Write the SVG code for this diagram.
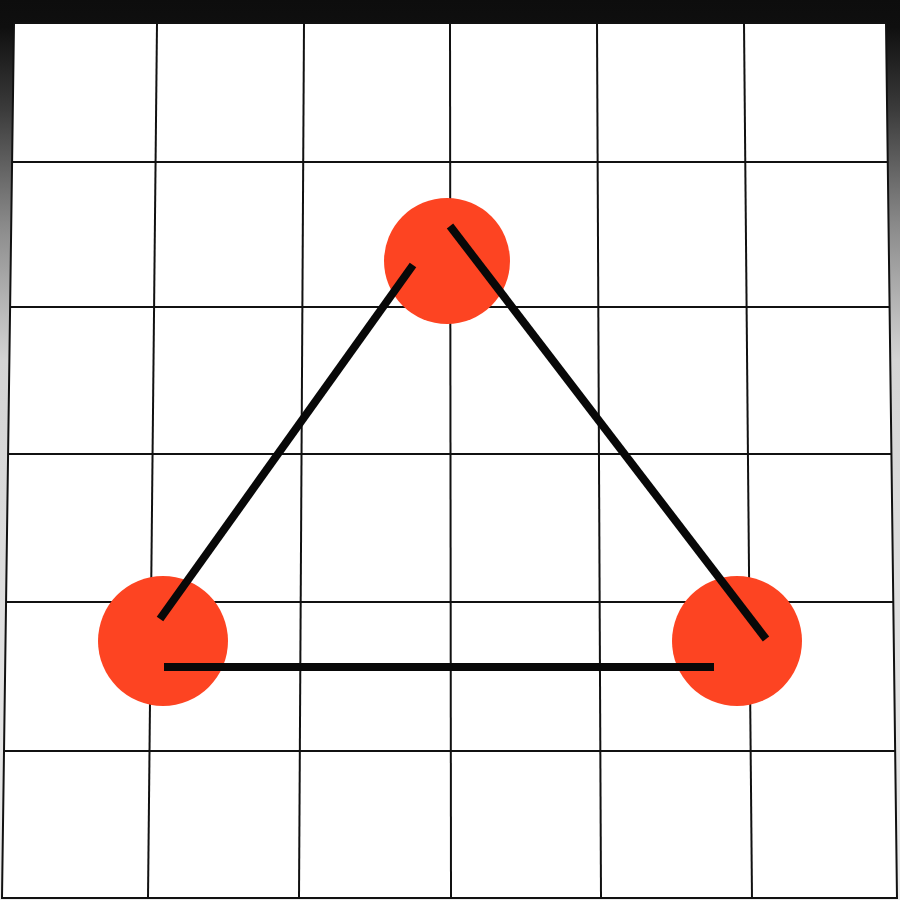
<svg xmlns="http://www.w3.org/2000/svg" width="900" height="900" viewBox="0 0 900 900">
<defs>
<linearGradient id="bg" x1="0" y1="0" x2="0" y2="900" gradientUnits="userSpaceOnUse">
<stop offset="0" stop-color="#0d0d0d"/>
<stop offset="0.03" stop-color="#0f0f0f"/>
<stop offset="0.12" stop-color="#3a3a3a"/>
<stop offset="0.25" stop-color="#8a8a8a"/>
<stop offset="0.4" stop-color="#d4d4d4"/>
<stop offset="1" stop-color="#ececec"/>
</linearGradient>
<style>
.grid{stroke:#111;stroke-width:2;fill:none}
.node{fill:#fd4422}
.edge{stroke:#080808;stroke-width:8;stroke-linecap:butt;fill:none}
</style>
</defs>
<rect x="0" y="0" width="900" height="900" fill="url(#bg)"/>
<polygon points="14,23 886,23 897,898 2,898" fill="#ffffff"/>
<g id="grid" class="grid">
<polygon points="14,23 886,23 897,898 2,898"/>
<line x1="157" y1="23" x2="148" y2="898"/>
<line x1="304" y1="23" x2="299" y2="898"/>
<line x1="450" y1="23" x2="451" y2="898"/>
<line x1="597" y1="23" x2="601" y2="898"/>
<line x1="744" y1="23" x2="752" y2="898"/>
<line x1="12.5" y1="162" x2="887" y2="162"/>
<line x1="10.5" y1="307" x2="889" y2="307"/>
<line x1="8.5" y1="454" x2="891" y2="454"/>
<line x1="6.5" y1="602" x2="893" y2="602"/>
<line x1="4" y1="751" x2="895" y2="751"/>
</g>
<g id="node-top"><circle class="node" cx="447" cy="261" r="63"/></g>
<g id="node-left"><circle class="node" cx="163" cy="641" r="65"/></g>
<g id="node-right"><circle class="node" cx="737" cy="641" r="65"/></g>
<g id="connectors">
<line class="edge" x1="160" y1="619" x2="413" y2="265"/>
<line class="edge" x1="450" y1="226" x2="766" y2="639"/>
<line class="edge" x1="164" y1="667" x2="714" y2="667"/>
</g>
</svg>
